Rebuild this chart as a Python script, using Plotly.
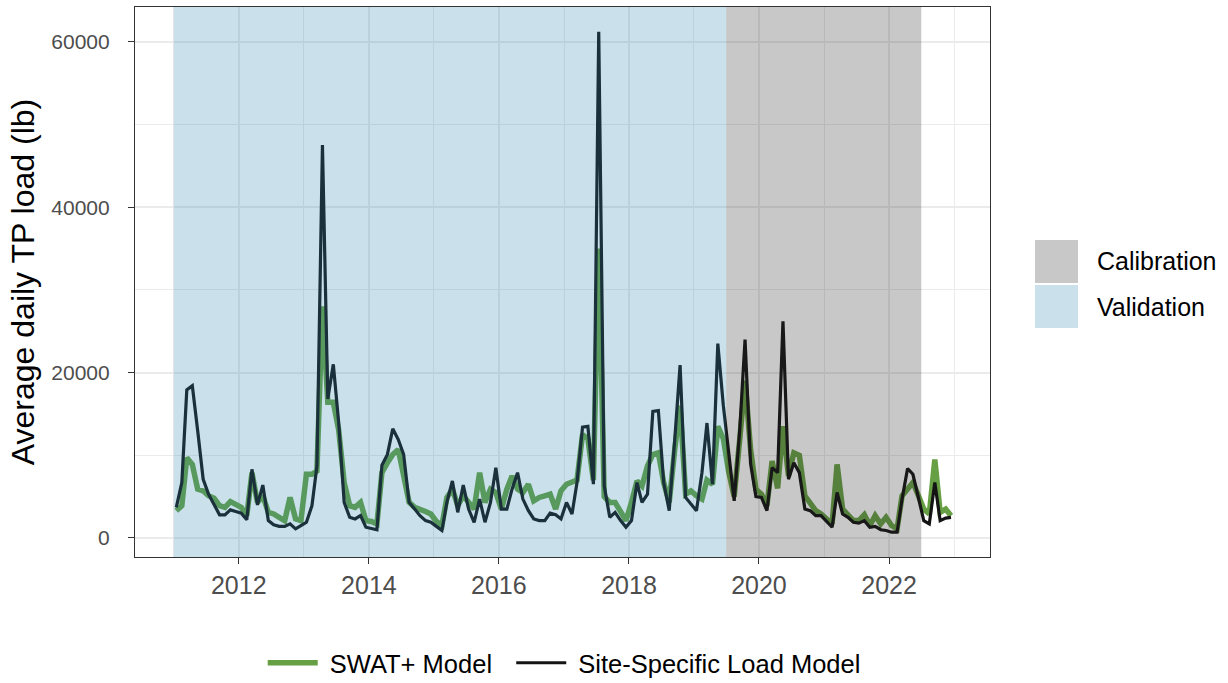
import pandas as pd
import plotly.graph_objects as go

# Monthly average daily TP load, Jan 2011 - Dec 2022 (mid-month dates)
months = pd.date_range("2011-01-01", "2022-12-01", freq="MS") + pd.Timedelta(days=14)

swat_model = [
    3300, 3900, 9700, 8900, 5900, 5700, 5100, 4800, 3900, 3700, 4400, 4000,      # 2011
    3700, 2700, 7900, 4300, 5100, 3100, 2900, 2500, 2100, 4900, 2300, 2100,      # 2012
    7700, 7700, 8100, 28000, 16400, 16400, 13100, 6700, 3900, 3700, 4300, 2100,  # 2013
    2000, 1700, 7900, 9100, 10100, 10700, 7900, 4300, 3700, 3500, 3200, 2900,    # 2014
    2000, 1500, 4900, 5900, 3900, 5100, 4300, 3500, 7900, 4300, 5900, 5500,      # 2015
    3500, 5900, 7500, 5900, 5500, 6500, 4500, 4900, 5100, 5300, 3500, 5700,      # 2016
    6500, 6700, 7000, 12500, 12000, 7000, 35000, 5000, 4300, 4300, 3100, 2100,   # 2017
    4300, 6900, 6300, 8700, 10100, 10300, 6700, 4300, 10700, 16000, 5300, 5700,  # 2018
    5100, 4700, 7000, 6500, 13500, 12000, 8000, 5000, 11900, 19000, 10700, 5900, # 2019
    5300, 3900, 9300, 6000, 13500, 7500, 10300, 10000, 5100, 4100, 3300, 2900,   # 2020
    2300, 1700, 8900, 3500, 2800, 2100, 2100, 2800, 1500, 2700, 1700, 2500,      # 2021
    1500, 1100, 5100, 5900, 6700, 5100, 3500, 2900, 9500, 3100, 3500, 2700,      # 2022
]

site_specific = [
    3700, 6700, 17900, 18400, 13000, 7100, 5300, 4100, 2800, 2800, 3400, 3200,     # 2011
    3000, 2200, 8300, 4000, 6400, 2100, 1600, 1400, 1400, 1700, 1100, 1500,        # 2012
    1900, 3900, 8700, 47500, 16800, 21000, 14000, 4300, 2500, 2300, 2700, 1300,    # 2013
    1100, 1000, 8800, 10100, 13200, 11900, 10100, 4300, 3500, 2700, 2100, 1900,    # 2014
    1400, 900, 4300, 6900, 3100, 6400, 3500, 1900, 4700, 1900, 4300, 8500,         # 2015
    3500, 3500, 5900, 7900, 4700, 3300, 2300, 2100, 2100, 3000, 2800, 2300,        # 2016
    4300, 2900, 6700, 13400, 13500, 6500, 61200, 6300, 2500, 3100, 2100, 1300,     # 2017
    2100, 6700, 4300, 5300, 15300, 15400, 6700, 3300, 11900, 20900, 4900, 4100,    # 2018
    3300, 7900, 13900, 6500, 23500, 16000, 9900, 4500, 13000, 24000, 9000, 5000,   # 2019
    4900, 3300, 8500, 7900, 26200, 7100, 9100, 7900, 3500, 3300, 2700, 2700,       # 2020
    2000, 1300, 5500, 2900, 2500, 1900, 1800, 2100, 1300, 1400, 1000, 900,         # 2021
    700, 700, 4700, 8400, 7700, 4700, 2100, 1700, 6700, 2100, 2400, 2500,          # 2022
]

# Model periods shaded over the series
period_names = ["Validation", "Calibration"]
period_starts = ["2011-01-01", "2019-07-01"]
period_ends = ["2019-07-01", "2022-07-01"]
period_fills = ["rgba(43,131,171,0.25)", "rgba(35,35,35,0.25)"]

FONT = "Liberation Sans, Arial, sans-serif"
NBSP = "\u00a0"

fig = go.Figure()
fig.add_trace(go.Scatter(
    x=months, y=swat_model, mode="lines", name=NBSP + "SWAT+ Model" + NBSP * 2,
    line=dict(color="#67A044", width=5.5),
))
fig.add_trace(go.Scatter(
    x=months, y=site_specific, mode="lines", name=NBSP + "Site-Specific Load Model",
    line=dict(color="#141414", width=3.2),
))

# Shaded periods drawn over the lines with transparency
for start, end, fill in zip(period_starts, period_ends, period_fills):
    fig.add_shape(type="rect", xref="x", yref="paper", x0=start, x1=end, y0=0, y1=1,
                  fillcolor=fill, line=dict(width=0), layer="above")

# Period key on the right
key_x0, key_x1 = 1.0526, 1.1029
key_rows = {"Calibration": (0.4982, 0.5764), "Validation": (0.4164, 0.4945)}
for name, fill in zip(period_names, period_fills):
    y0, y1 = key_rows[name]
    fig.add_shape(type="rect", xref="paper", yref="paper", x0=key_x0, x1=key_x1,
                  y0=y0, y1=y1, fillcolor=fill, line=dict(width=0))
    fig.add_annotation(xref="paper", yref="paper", x=1.1228, y=(y0 + y1) / 2,
                       text=name, showarrow=False, xanchor="left", yanchor="middle",
                       font=dict(family=FONT, size=25, color="#000000"))

axis_common = dict(
    showline=True, mirror=True, linecolor="#333333", linewidth=1.2,
    ticks="outside", ticklen=6, tickwidth=1.2, tickcolor="#333333",
    showgrid=True, gridcolor="#EBEBEB", gridwidth=1.6,
    zeroline=False,
)

fig.update_xaxes(
    type="date", range=["2010-05-28", "2023-07-22"],
    tick0="2012-01-01", dtick="M24", tickformat="%Y",
    tickfont=dict(family=FONT, size=25, color="#4D4D4D"),
    minor=dict(dtick="M12", showgrid=True, gridcolor="#EBEBEB", gridwidth=0.8, ticks=""),
    **axis_common,
)
fig.update_yaxes(
    range=[-2300, 64200], tickvals=[0, 20000, 40000, 60000], tickformat="d",
    tickfont=dict(family=FONT, size=21, color="#4D4D4D"),
    ticklabelstandoff=14,
    minor=dict(tickvals=[10000, 30000, 50000], showgrid=True, gridcolor="#EBEBEB",
               gridwidth=0.8, ticks=""),
    title=dict(text="Average daily TP load (lb)", standoff=7,
               font=dict(family=FONT, size=32, color="#000000")),
    **axis_common,
)

fig.update_layout(
    width=1228, height=683,
    margin=dict(l=135, r=238, t=7, b=126, autoexpand=False),
    plot_bgcolor="white", paper_bgcolor="white",
    font=dict(family=FONT),
    showlegend=True,
    legend=dict(orientation="h", x=0.502, xanchor="center", y=-0.193, yanchor="middle",
                font=dict(family=FONT, size=25.5, color="#000000"),
                itemwidth=50, bgcolor="rgba(0,0,0,0)"),
)

fig.write_html("out.html")
